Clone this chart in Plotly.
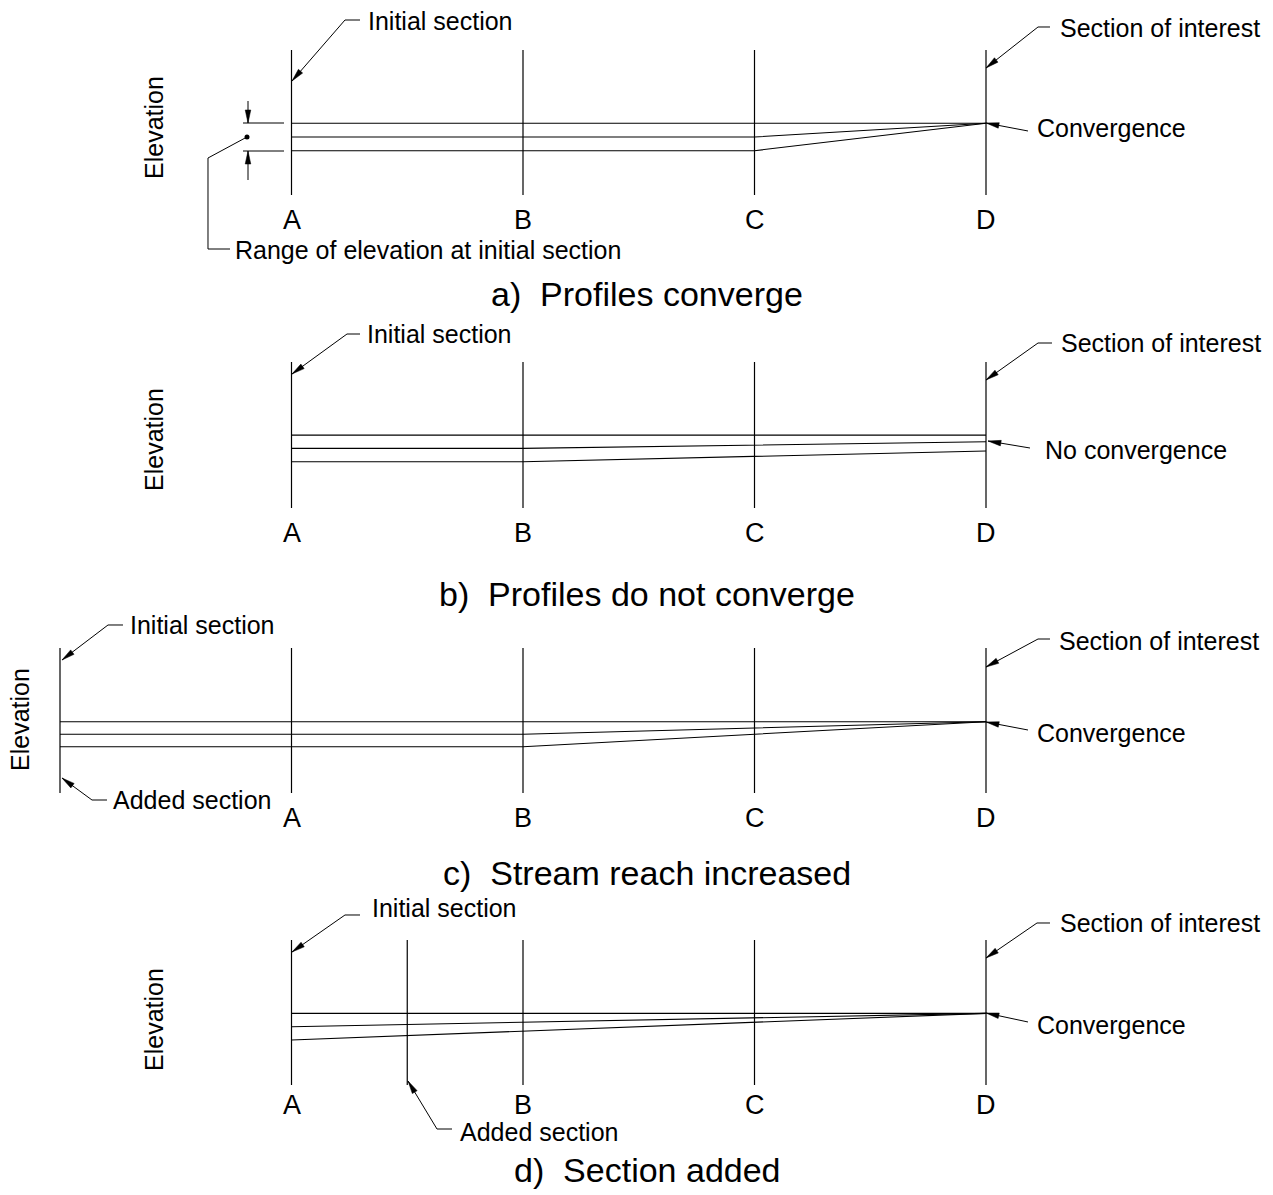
import math
import plotly.graph_objects as go

W, H = 1273, 1195
FONT = "Liberation Sans, Arial, Helvetica, sans-serif"

# ---------------- data ----------------
section_labels = ["A", "B", "C", "D"]
section_stations = [0, 1, 2, 3]
upstream_added_station = -1      # panel c: added section upstream
mid_added_station = 0.5          # panel d: added section between A and B

# water-surface profiles (stations, relative elevations)
a_top_st, a_top = [0, 3], [2, 2]
a_mid_st, a_mid = [0, 2, 3], [1, 1, 2]
a_low_st, a_low = [0, 2, 3], [0, 0, 2]

b_top_st, b_top = [0, 3], [2, 2]
b_mid_st, b_mid = [0, 1, 3], [1, 1, 1.5]
b_low_st, b_low = [0, 1, 3], [0, 0, 0.8]

c_top_st, c_top = [-1, 3], [2, 2]
c_mid_st, c_mid = [-1, 1, 3], [1, 1, 2]
c_low_st, c_low = [-1, 1, 3], [0, 0, 2]

d_top_st, d_top = [0, 3], [2, 2]
d_mid_st, d_mid = [0, 3], [1, 2]
d_low_st, d_low = [0, 3], [0, 2]

titles = ["a)\u00a0\u00a0Profiles converge", "b)\u00a0\u00a0Profiles do not converge",
          "c)\u00a0\u00a0Stream reach increased", "d)\u00a0\u00a0Section added"]

# ---------------- layout geometry (pixels) ----------------
X0, DX = 291.5, 231.5          # pixel of station 0, pixels per station
# per panel: pixel of elevation 0, pixels per elevation unit, vertical line top/bottom
panels = [
    dict(base=150.7, unit=13.7, top=50, bot=195, lab=220, title=294),
    dict(base=461.7, unit=13.3, top=362, bot=508, lab=533, title=594),
    dict(base=746.7, unit=12.5, top=648, bot=793, lab=818, title=873),
    dict(base=1040.0, unit=13.3, top=940, bot=1085, lab=1105, title=1170),
]

def px(x):
    return x / W

def py(y):
    return 1 - y / H

fig = go.Figure()
LINE = dict(color="black", width=1.2)

profiles = [
    [(a_top_st, a_top), (a_mid_st, a_mid), (a_low_st, a_low)],
    [(b_top_st, b_top), (b_mid_st, b_mid), (b_low_st, b_low)],
    [(c_top_st, c_top), (c_mid_st, c_mid), (c_low_st, c_low)],
    [(d_top_st, d_top), (d_mid_st, d_mid), (d_low_st, d_low)],
]

shapes = []
annotations = []

for i, (pan, profs) in enumerate(zip(panels, profiles)):
    yname = "y" if i == 0 else f"y{i+1}"
    for st, el in profs:
        fig.add_trace(go.Scatter(x=st, y=el, mode="lines", line=dict(color="black", width=1.1),
                                 xaxis="x", yaxis=yname, showlegend=False, hoverinfo="skip"))
    # section lines
    sts = list(section_stations)
    if i == 2:
        sts = [upstream_added_station] + sts
    if i == 3:
        sts = sts + [mid_added_station]
    for s in sts:
        shapes.append(dict(type="line", xref="x", yref="paper", x0=s, x1=s,
                           y0=py(pan["top"]), y1=py(pan["bot"]), line=LINE))
    for s, lab in zip(section_stations, section_labels):
        annotations.append(dict(x=s, y=py(pan["lab"]), xref="x", yref="paper", text=lab,
                                showarrow=False, xanchor="center", yanchor="middle",
                                font=dict(family=FONT, size=27, color="black")))
    annotations.append(dict(x=px(647), y=py(pan["title"]), xref="paper", yref="paper",
                            text=titles[i], showarrow=False, xanchor="center", yanchor="middle",
                            font=dict(family=FONT, size=34, color="black")))

# axes
layout_axes = dict(
    xaxis=dict(range=[-X0 / DX, (W - X0) / DX], visible=False, fixedrange=True),
)
for i, pan in enumerate(panels):
    key = "yaxis" if i == 0 else f"yaxis{i+1}"
    ax = dict(range=[(pan["base"] - H) / pan["unit"], pan["base"] / pan["unit"]],
              visible=False, fixedrange=True, domain=[0, 1])
    if i > 0:
        ax["overlaying"] = "y"
    layout_axes[key] = ax

# ---------------- leaders & arrows (pixel coordinates) ----------------
def polyline(pts, width=1.0):
    path = "M " + " L ".join(f"{px(x):.5f},{py(y):.5f}" for x, y in pts)
    shapes.append(dict(type="path", xref="paper", yref="paper", path=path,
                       line=dict(color="black", width=width)))

def arrowhead(tail, tip, L=13, hw=2.8):
    dx, dy = tip[0] - tail[0], tip[1] - tail[1]
    d = math.hypot(dx, dy)
    ux, uy = dx / d, dy / d
    bx, by = tip[0] - L * ux, tip[1] - L * uy
    nx, ny = -uy, ux
    pts = [tip, (bx + hw * nx, by + hw * ny), (bx - hw * nx, by - hw * ny)]
    path = "M " + " L ".join(f"{px(x):.5f},{py(y):.5f}" for x, y in pts) + " Z"
    shapes.append(dict(type="path", xref="paper", yref="paper", path=path,
                       fillcolor="black", line=dict(color="black", width=0.5)))

def leader(pts):
    polyline(pts)
    arrowhead(pts[-2], pts[-1])

leaders = [
    # panel a
    [(360, 20), (345, 20), (292, 81)],
    [(1050, 27), (1038, 27), (986, 68)],
    [(1028, 131), (986, 123)],
    [(248, 101), (248, 123)],
    [(248, 180), (248, 151)],
    # panel b
    [(360, 334), (347, 334), (292, 374)],
    [(1052, 343), (1038, 343), (986, 380)],
    [(1030, 448), (988, 441)],
    # panel c
    [(123, 625), (108, 625), (62, 660)],
    [(107, 800), (92, 800), (62, 778)],
    [(1050, 639), (1038, 639), (986, 667)],
    [(1028, 730), (986, 722)],
    # panel d
    [(360, 915), (345, 915), (292, 952)],
    [(452, 1129), (437, 1129), (408, 1081)],
    [(1050, 923), (1037, 923), (986, 958)],
    [(1028, 1022), (986, 1013)],
]
for ld in leaders:
    leader(ld)

# range-of-elevation markings in panel a
polyline([(243, 123), (284, 123)])
polyline([(243, 151), (284, 151)])
polyline([(247, 137), (208, 158), (208, 249), (230, 249)])
shapes.append(dict(type="circle", xref="paper", yref="paper",
                   x0=px(244.5), x1=px(249.5), y0=py(134.5), y1=py(139.5),
                   fillcolor="black", line=dict(color="black", width=0)))

# ---------------- text labels ----------------
def label(x, y, s, size=25):
    annotations.append(dict(x=px(x), y=py(y), xref="paper", yref="paper", text=s,
                            showarrow=False, xanchor="left", yanchor="middle",
                            font=dict(family=FONT, size=size, color="black")))

def elev(x, y):
    annotations.append(dict(x=px(x), y=py(y), xref="paper", yref="paper", text="Elevation",
                            showarrow=False, xanchor="center", yanchor="middle", textangle=-90,
                            font=dict(family=FONT, size=25, color="black")))

label(366, 21, "Initial section")
label(1058, 28, "Section of interest")
label(1035, 128, "Convergence")
label(233, 250, "Range of elevation at initial section")
elev(154, 128)

label(365, 334, "Initial section")
label(1059, 343, "Section of interest")
label(1043, 450, "No convergence")
elev(154, 440)

label(128, 625, "Initial section")
label(111, 800, "Added section")
label(1057, 641, "Section of interest")
label(1035, 733, "Convergence")
elev(20, 720)

label(370, 908, "Initial section")
label(458, 1132, "Added section")
label(1058, 923, "Section of interest")
label(1035, 1025, "Convergence")
elev(154, 1020)

fig.update_layout(
    width=W, height=H, autosize=False,
    margin=dict(l=0, r=0, t=0, b=0, pad=0),
    paper_bgcolor="white", plot_bgcolor="white",
    showlegend=False,
    shapes=shapes, annotations=annotations,
    **layout_axes,
)

fig.write_html("out.html", config={"displayModeBar": False},
               post_script="document.body.style.margin='0px';document.body.style.overflow='hidden';")
